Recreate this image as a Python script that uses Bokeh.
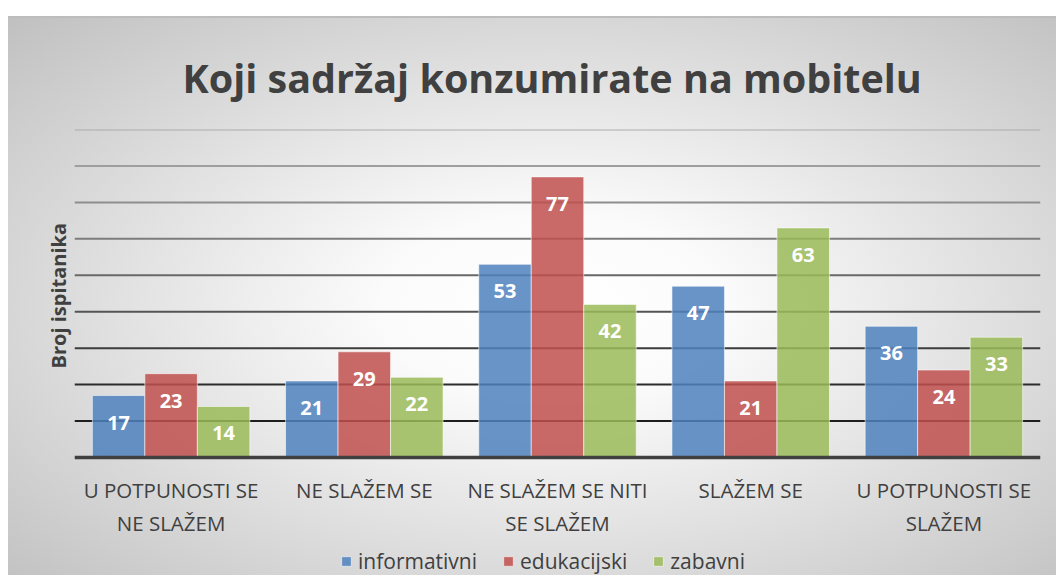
from bokeh.plotting import figure
from bokeh.models import (FactorRange, Range1d, Span, Legend, LegendItem, ColumnDataSource,
                          Spacer, Title)
from bokeh.layouts import column, row
from bokeh.transform import dodge
from bokeh.core.properties import value
from bokeh.embed import file_html
from bokeh.resources import INLINE

# ---- data ----
categories = ["U POTPUNOSTI SE\nNE SLAŽEM", "NE SLAŽEM SE", "NE SLAŽEM SE NITI\nSE SLAŽEM",
              "SLAŽEM SE", "U POTPUNOSTI SE\nSLAŽEM"]
informativni = [17, 21, 53, 47, 36]
edukacijski = [23, 29, 77, 21, 24]
zabavni = [14, 22, 42, 63, 33]
series_names = ["informativni", "edukacijski", "zabavni"]
series_colors = ["#4F81BD", "#C0504D", "#9BBB59"]
grid_values = [10, 20, 30, 40, 50, 60, 70, 80, 90]
grid_colors = ["#1e1e1e", "#2c2c2c", "#3c3c3c", "#545454", "#686868",
               "#7c7c7c", "#8e8e8e", "#9e9e9e", "#acacac"]

title_text = "Koji sadržaj konzumirate na mobitelu"
y_label = "Broj ispitanika"

FONT = "Open Sans"
TXT = "#404040"

data = dict(cat=categories, informativni=informativni, edukacijski=edukacijski, zabavni=zabavni)
for n in series_names:
    data[n + "_lbl"] = [str(v) for v in data[n]]
src = ColumnDataSource(data)

# frame spans from the top gridline (90) down to the bottom of the canvas;
# the value axis sits at 0 inside it, leaving room for category labels and legend
Y_MAX = 90
Y_MIN = -Y_MAX * 118 / 328

p = figure(x_range=FactorRange(*categories, range_padding=0), y_range=Range1d(Y_MIN, Y_MAX),
           width=1048, height=559, output_backend="svg", toolbar_location=None,
           min_border_left=66, min_border_right=16, min_border_top=113, min_border_bottom=0)

p.border_fill_color = None
p.background_fill_color = None
p.outline_line_color = None
p.styles = {"background": "linear-gradient(#bdbdbd, #bdbdbd) top / 100% 2px no-repeat, "
                          "radial-gradient(ellipse farthest-corner at 52% 52%, #ffffff 0%, #fbfbfb 22%, #c0c0c0 100%)"}

# title
p.title.text = title_text
p.title.align = "left"
p.title.offset = 108
p.title.text_font = FONT
p.title.text_font_size = "39.5px"
p.title.text_font_style = "bold"
p.title.text_color = TXT
p.title.standoff = 49

# grid lines
p.xgrid.visible = False
p.ygrid.visible = False
for v, c in zip(grid_values, grid_colors):
    p.add_layout(Span(location=v, dimension="width", line_color=c, line_width=2, level="underlay"))

# value axis title (vertical, left side)
p.yaxis.visible = False
ytitle = Title(text=y_label, align="left", offset=207, standoff=6,
               text_font=FONT, text_font_size="20px", text_font_style="bold", text_color=TXT)
p.add_layout(ytitle, "left")

# category axis at 0
p.xaxis.fixed_location = 0
p.xaxis.axis_line_color = "#404040"
p.xaxis.axis_line_width = 3.5
p.xaxis.major_tick_line_color = None
p.xaxis.minor_tick_line_color = None
p.xaxis.major_label_text_font = FONT
p.xaxis.major_label_text_font_size = "20.5px"
p.xaxis.major_label_text_color = TXT
p.xaxis.major_label_standoff = 12

offsets = [-0.2717, 0.0, 0.2717]
items = []
for n, col, off in zip(series_names, series_colors, offsets):
    r = p.vbar(x=dodge("cat", off, range=p.x_range), top=n, bottom=0, width=0.2717, source=src,
               fill_color=col, fill_alpha=0.85, line_color="white", line_alpha=0.55, line_width=1)
    p.text(x=dodge("cat", off, range=p.x_range), y=n, text=n + "_lbl", source=src,
           text_font=value(FONT), text_font_size="20px", text_font_style="bold",
           text_color="white", text_align="center", text_baseline="middle", y_offset=27)
    items.append(LegendItem(label=n, renderers=[r]))

legend = Legend(items=items, orientation="horizontal", location=(266, 0),
                glyph_width=12, glyph_height=12, label_standoff=6, spacing=25,
                padding=0, margin=0, border_line_color=None, background_fill_alpha=0,
                label_text_font=FONT, label_text_font_size="21px", label_text_color=TXT)
p.add_layout(legend)

layout = column(Spacer(width=1056, height=16), row(Spacer(width=8, height=559), p))
open("out.html", "w").write(file_html(layout, INLINE))
